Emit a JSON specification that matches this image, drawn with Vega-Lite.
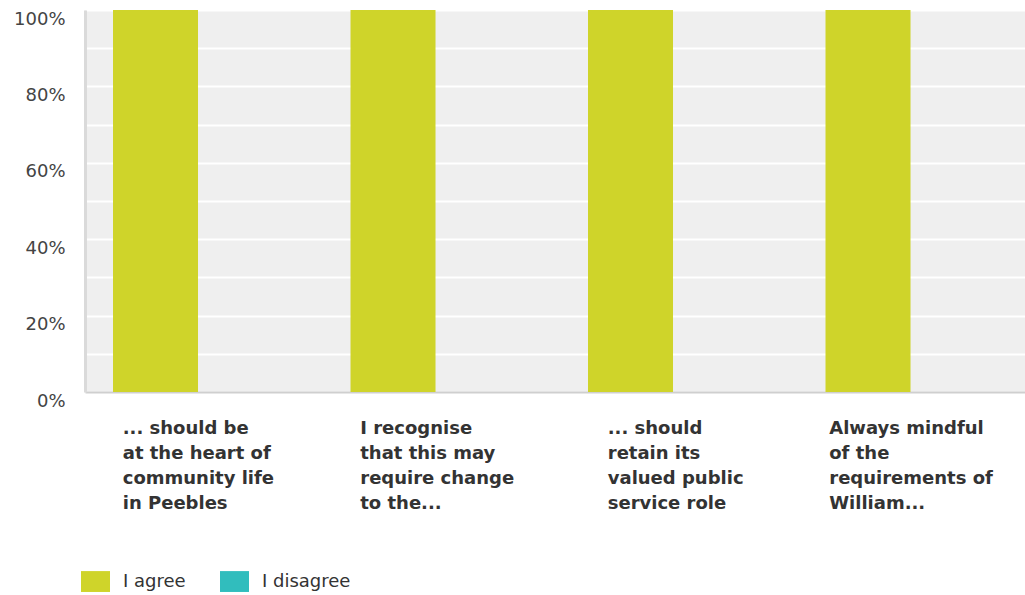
{
  "$schema": "https://vega.github.io/schema/vega-lite/v6.json",
  "width": 940,
  "height": 382,
  "autosize": "none",
  "padding": {"left": 85, "top": 10, "right": 0, "bottom": 203},
  "background": "white",
  "config": {
    "view": {"fill": "#efefef", "stroke": null},
    "font": "DejaVu Sans"
  },
  "data": {
    "values": [
      {"question": "... should be\nat the heart of\ncommunity life\nin Peebles", "response": "I agree", "pct": 1},
      {"question": "... should be\nat the heart of\ncommunity life\nin Peebles", "response": "I disagree", "pct": 0},
      {"question": "I recognise\nthat this may\nrequire change\nto the...", "response": "I agree", "pct": 1},
      {"question": "I recognise\nthat this may\nrequire change\nto the...", "response": "I disagree", "pct": 0},
      {"question": "... should\nretain its\nvalued public\nservice role", "response": "I agree", "pct": 1},
      {"question": "... should\nretain its\nvalued public\nservice role", "response": "I disagree", "pct": 0},
      {"question": "Always mindful\nof the\nrequirements of\nWilliam...", "response": "I agree", "pct": 1},
      {"question": "Always mindful\nof the\nrequirements of\nWilliam...", "response": "I disagree", "pct": 0}
    ]
  },
  "mark": {"type": "bar"},
  "encoding": {
    "x": {
      "field": "question",
      "type": "nominal",
      "sort": null,
      "title": null,
      "scale": {"paddingInner": 0, "paddingOuter": 0, "range": [0, 950]},
      "axis": {
        "labelAngle": 0,
        "labelAlign": "left",
        "labelBaseline": "top",
        "labelFontWeight": "bold",
        "labelFontSize": 18,
        "labelLineHeight": 25,
        "labelColor": "#333333",
        "labelPadding": 27,
        "labelLimit": 0,
        "labelOverlap": false,
        "labelBound": false,
        "labelExpr": "split(datum.label, '\\n')",
        "labelOffset": {
          "condition": [
            {"test": "indexof(datum.value, 'Peebles') >= 0", "value": -81},
            {"test": "indexof(datum.value, 'recognise') >= 0", "value": -81},
            {"test": "indexof(datum.value, 'retain') >= 0", "value": -71}
          ],
          "value": -87
        },
        "ticks": false,
        "domainColor": "#cfcfcf",
        "domainWidth": 2,
        "grid": false
      }
    },
    "xOffset": {
      "field": "response",
      "type": "nominal",
      "sort": ["I agree", "I disagree"],
      "scale": {"paddingInner": 0, "paddingOuter": 0.397, "align": 0.415}
    },
    "y": {
      "field": "pct",
      "type": "quantitative",
      "title": null,
      "scale": {"domain": [0, 1], "nice": false},
      "axis": {
        "values": [0, 0.1, 0.2, 0.3, 0.4, 0.5, 0.6, 0.7, 0.8, 0.9, 1],
        "format": ".0%",
        "labelExpr": "round(datum.value * 10) % 2 == 0 ? datum.label : ''",
        "labelFontSize": 18,
        "labelColor": "#444444",
        "labelBaseline": "top",
        "labelPadding": 20,
        "ticks": false,
        "domainColor": "#dadada",
        "domainWidth": 3,
        "gridColor": "#ffffff",
        "gridWidth": 2,
        "gridOpacity": 1
      }
    },
    "color": {
      "field": "response",
      "type": "nominal",
      "sort": ["I agree", "I disagree"],
      "scale": {"domain": ["I agree", "I disagree"], "range": ["#cfd42a", "#31bdbd"]},
      "legend": {
        "title": null,
        "orient": "none",
        "direction": "horizontal",
        "legendX": -4,
        "legendY": 557,
        "symbolType": "M-1,-0.72 H1 V0.72 H-1 Z",
        "symbolSize": 841,
        "symbolStrokeWidth": 0,
        "symbolOpacity": 1,
        "labelFontSize": 18,
        "labelColor": "#333333",
        "labelOffset": 13,
        "columnPadding": 34
      }
    }
  }
}
